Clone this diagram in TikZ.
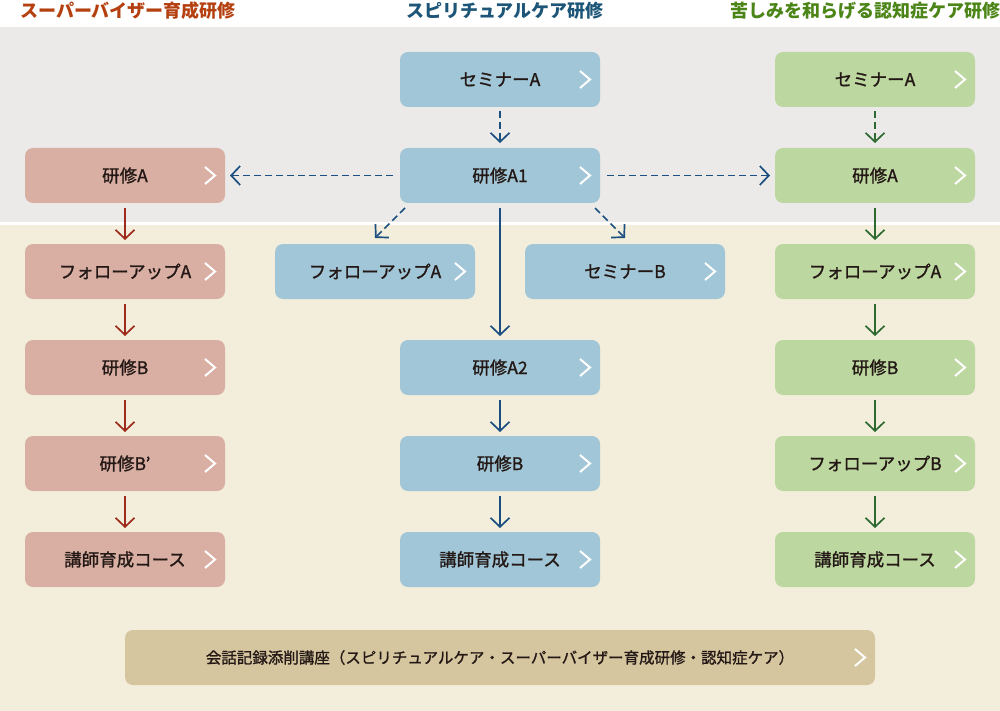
\documentclass[tikz,border=0pt]{standalone}
\usepackage{fontspec}
\setmainfont{Noto Sans CJK JP}
\newfontfamily\lblfont{Noto Sans CJK JP}[FakeBold=1.2]
\usetikzlibrary{arrows.meta}
\definecolor{bandgray}{HTML}{EBEAE8}
\definecolor{bandbeige}{HTML}{F2EEDB}
\definecolor{boxred}{HTML}{D8AFA2}
\definecolor{boxblue}{HTML}{A1C6D7}
\definecolor{boxgreen}{HTML}{BDD7A0}
\definecolor{boxtan}{HTML}{D6C69F}
\definecolor{arrred}{HTML}{9E2A1C}
\definecolor{arrblue}{HTML}{1B4F7F}
\definecolor{arrgreen}{HTML}{2E6A30}
\definecolor{hdred}{HTML}{B5400F}
\definecolor{hdblue}{HTML}{1C5577}
\definecolor{hdgreen}{HTML}{4C8517}
\definecolor{txt}{HTML}{231815}
\begin{document}
\begin{tikzpicture}[x=1pt,y=-1pt,
  box/.style={rounded corners=8pt, minimum width=200pt, minimum height=55pt,
    inner sep=0pt, outer sep=0pt, text=txt, font=\lblfont\fontsize{17.5}{17.5}\selectfont},
  rbox/.style={box, fill=boxred},
  bbox/.style={box, fill=boxblue},
  gbox/.style={box, fill=boxgreen},
  chev/.style={white, line width=2pt, line cap=butt, line join=miter},
  tip/.style={-{Straight Barb[length=9pt,width=19pt,line width=1.7pt]}},
  conn/.style={tip, line width=1.7pt},
  rarr/.style={conn, arrred, shorten <=5pt, shorten >=4pt},
  barr/.style={conn, arrblue},
  garr/.style={conn, arrgreen, shorten <=5pt, shorten >=4pt},
  dsh/.style={dash pattern=on 7pt off 4pt},
  hdr/.style={font=\fontsize{18}{18}\selectfont\bfseries, inner sep=0pt}
]
\useasboundingbox (0,0) rectangle (1000,711);
\fill[white] (0,0) rectangle (1000,711);
\fill[bandgray] (0,27) rectangle (1000,222);
\fill[bandbeige] (0,225) rectangle (1000,711);

% headers
\node[hdr, text=hdred] (h1) at (128,11) {スーパーバイザー育成研修};
\node[hdr, text=hdblue] (h2) at (505,11) {スピリチュアルケア研修};
\node[hdr, text=hdgreen] (h3) at (865,11) {苦しみを和らげる認知症ケア研修};

% left column
\node[rbox] (r1) at (125,175.5) {研修A};
\node[rbox] (r2) at (125,271.5) {フォローアップA};
\node[rbox] (r3) at (125,367.5) {研修B};
\node[rbox] (r4) at (125,463.5) {研修B’};
\node[rbox] (r5) at (125,559.5) {講師育成コース};

% middle column
\node[bbox] (m1) at (500,79.5) {セミナーA};
\node[bbox] (m2) at (500,175.5) {研修A1};
\node[bbox] (mf) at (375,271.5) {フォローアップA};
\node[bbox] (ms) at (625,271.5) {セミナーB};
\node[bbox] (m3) at (500,367.5) {研修A2};
\node[bbox] (m4) at (500,463.5) {研修B};
\node[bbox] (m5) at (500,559.5) {講師育成コース};

% right column
\node[gbox] (g1) at (875,79.5) {セミナーA};
\node[gbox] (g2) at (875,175.5) {研修A};
\node[gbox] (g3) at (875,271.5) {フォローアップA};
\node[gbox] (g4) at (875,367.5) {研修B};
\node[gbox] (g5) at (875,463.5) {フォローアップB};
\node[gbox] (g6) at (875,559.5) {講師育成コース};

% bottom
\node[box, fill=boxtan, minimum width=750pt, font=\lblfont\fontsize{15.5}{15.5}\selectfont] (bt) at (500,657.5)
  {会話記録添削講座（スピリチュアルケア・スーパーバイザー育成研修・認知症ケア）};

% chevrons
\foreach \n in {r1,r2,r3,r4,r5,m1,m2,mf,ms,m3,m4,m5,g1,g2,g3,g4,g5,g6,bt}
  \draw[chev] ([shift={(-20,-8.5)}]\n.east) -- ([shift={(-10,0)}]\n.east) -- ([shift={(-20,8.5)}]\n.east);

% left arrows
\draw[rarr] (r1) -- (r2);
\draw[rarr] (r2) -- (r3);
\draw[rarr] (r3) -- (r4);
\draw[rarr] (r4) -- (r5);

% middle arrows
\draw[barr, dsh, shorten <=4pt, shorten >=5pt] (m1) -- (m2);
\draw[barr, dsh, shorten <=7pt, shorten >=5pt] (m2.west) -- (r1.east);
\draw[barr, dsh, shorten <=7pt, shorten >=5pt] (m2.east) -- (g2.west);
\draw[barr, dsh] ([shift={(5,5)}]m2.south west) -- ([shift={(0,-6)}]mf.north);
\draw[barr, dsh] ([shift={(-5,5)}]m2.south east) -- ([shift={(0,-6)}]ms.north);
\draw[barr, shorten <=5pt, shorten >=4pt] (m2) -- (m3);
\draw[barr, shorten <=5pt, shorten >=4pt] (m3) -- (m4);
\draw[barr, shorten <=5pt, shorten >=4pt] (m4) -- (m5);

% right arrows
\draw[garr, dsh, shorten <=4pt, shorten >=5pt] (g1) -- (g2);
\draw[garr] (g2) -- (g3);
\draw[garr] (g3) -- (g4);
\draw[garr] (g4) -- (g5);
\draw[garr] (g5) -- (g6);
\end{tikzpicture}
\end{document}
